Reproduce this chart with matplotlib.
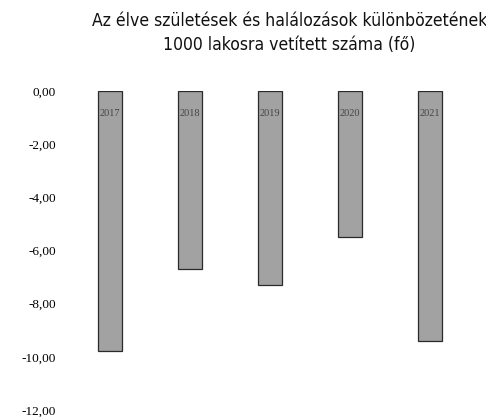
import matplotlib
matplotlib.use("Agg")
import matplotlib.pyplot as plt
import numpy as np

# data
years = ["2017", "2018", "2019", "2020", "2021"]
values = [-9.8, -6.7, -7.3, -5.5, -9.4]
yticks = [0, -2, -4, -6, -8, -10, -12]
title = "Az élve születések és halálozások különbözetének\n1000 lakosra vetített száma (fő)"

fig = plt.figure(figsize=(4.86, 4.17), dpi=100)
ax = fig.add_axes([0.144, 0.017, 0.823, 0.765])

x = np.arange(len(years))
ax.bar(x, values, width=0.31, color="#a2a2a2", edgecolor="#2a2a2a", linewidth=0.9)

ax.set_xlim(-0.5, len(years) - 0.5)
ax.set_ylim(-12, 0)
ax.set_yticks(yticks)
ax.set_yticklabels(["{:.2f}".format(v).replace(".", ",") if v != 0 else "0,00" for v in yticks],
                   family="Liberation Serif", fontsize=9.5, color="black")
ax.tick_params(axis="y", length=0, pad=10)

# category labels sit just under the zero line, inside the bars
ax.spines["bottom"].set_position(("data", 0))
ax.set_xticks(x)
ax.set_xticklabels(years, family="Liberation Serif", fontsize=7.5, color="#444444")
ax.tick_params(axis="x", length=0, pad=13)

for s in ["top", "right", "left", "bottom"]:
    ax.spines[s].set_visible(False)

fig.text(0.596, 1 - 12 / 417, title, ha="center", va="top", family="DejaVu Sans",
         fontstretch="condensed", fontsize=12.6, color="#111111", linespacing=1.4)

fig.savefig("out.png", dpi=100)
